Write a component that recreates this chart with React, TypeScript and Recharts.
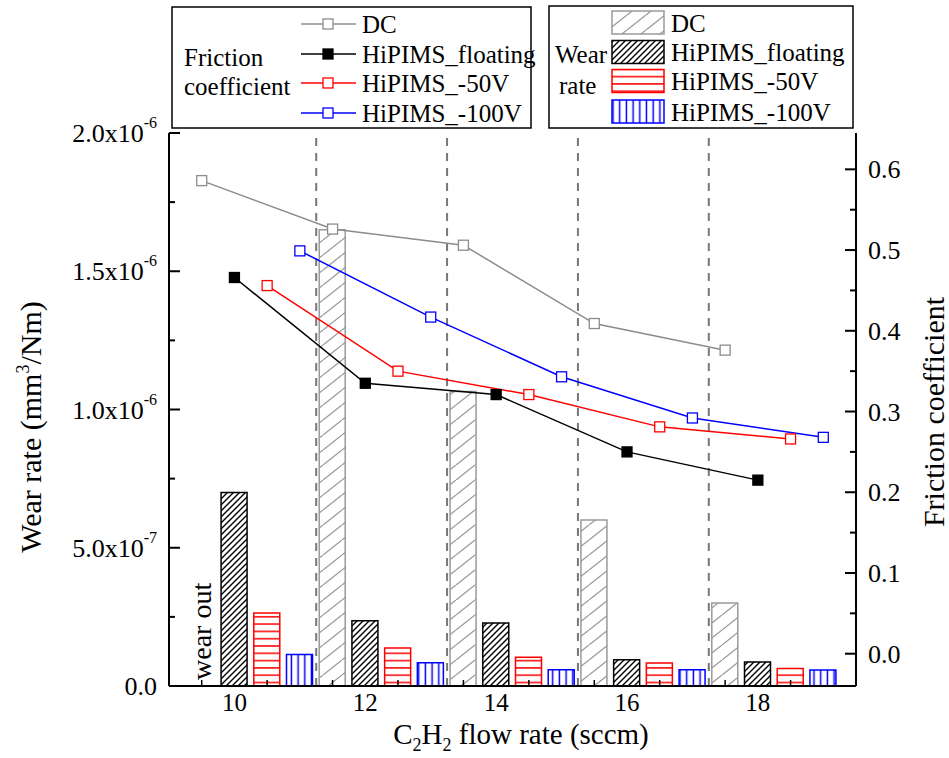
import React from 'react';
import { ComposedChart, Bar, Line, XAxis, YAxis, ReferenceLine, ReferenceDot } from 'recharts';

const FONT = '"Liberation Serif", "Times New Roman", serif';

// C2H2 flow rate groups (sccm)
const flowRates = [10, 12, 14, 16, 18];

// wear rate (mm3/Nm); DC at 10 sccm wore out -> no value
const wearDC = [null, 1.65e-6, 1.065e-6, 0.6e-6, 0.3e-6];
const wearFloating = [0.7e-6, 0.236e-6, 0.228e-6, 0.095e-6, 0.087e-6];
const wear50V = [0.264e-6, 0.137e-6, 0.104e-6, 0.083e-6, 0.063e-6];
const wear100V = [0.114e-6, 0.084e-6, 0.059e-6, 0.059e-6, 0.058e-6];

// friction coefficient
const frictionDC = [0.586, 0.526, 0.506, 0.409, 0.376];
const frictionFloating = [0.466, 0.335, 0.321, 0.25, 0.215];
const friction50V = [0.456, 0.35, 0.321, 0.281, 0.266];
const friction100V = [0.499, 0.417, 0.343, 0.292, 0.268];

// ticks
const xLabelTicks = [10, 12, 14, 16, 18];
const xMinorTicks = [9.5, 10.5, 11.5, 12.5, 13.5, 14.5, 15.5, 16.5, 17.5, 18.5];
const groupDividers = [11.25, 13.25, 15.25, 17.25];
const wearMajorTicks = [0, 0.5e-6, 1.0e-6, 1.5e-6, 2.0e-6];
const wearMinorTicks = [0.25e-6, 0.75e-6, 1.25e-6, 1.75e-6];
const frictionMajorTicks = [0, 0.1, 0.2, 0.3, 0.4, 0.5, 0.6];
const frictionMinorTicks = [0.05, 0.15, 0.25, 0.35, 0.45, 0.55];

const series = [
  { key: 'DC', name: 'DC', offset: -0.5, wear: wearDC, friction: frictionDC, color: '#8c8c8c', barStroke: '#9a9a9a', markerFill: '#fff', pattern: 'patDC' },
  { key: 'FL', name: 'HiPIMS_floating', offset: 0, wear: wearFloating, friction: frictionFloating, color: '#000', barStroke: '#000', markerFill: '#000', pattern: 'patFL' },
  { key: 'N50', name: 'HiPIMS_-50V', offset: 0.5, wear: wear50V, friction: friction50V, color: '#ff0000', barStroke: '#ff0000', markerFill: '#fff', pattern: 'patN50' },
  { key: 'N100', name: 'HiPIMS_-100V', offset: 1, wear: wear100V, friction: friction100V, color: '#0000ff', barStroke: '#0000ff', markerFill: '#fff', pattern: 'patN100' },
];

const rows: any[] = [];
flowRates.forEach((f, i) => {
  series.forEach((s) => {
    const row: any = { x: f + s.offset };
    if (s.wear[i] != null) row['w' + s.key] = s.wear[i];
    row['f' + s.key] = s.friction[i];
    rows.push(row);
  });
});

function formatWear(v: number) {
  if (v === 0) return { m: '0.0', e: '' };
  const e = Math.floor(Math.log10(v) + 1e-9);
  return { m: (v / Math.pow(10, e)).toFixed(1) + 'x10', e: String(e) };
}

function BottomTick(props: any) {
  const { x, y, payload } = props;
  const v = payload.value;
  if (xLabelTicks.includes(v)) {
    return (
      <text x={x} y={y + 25} textAnchor="middle" fontSize={25} fontFamily={FONT} fill="#000">
        {v}
      </text>
    );
  }
  return <line x1={x} x2={x} y1={y} y2={y - 6} stroke="#000" strokeWidth={1.5} />;
}

function TopTick(props: any) {
  const { x, y } = props;
  return <line x1={x} x2={x} y1={y} y2={y + 6} stroke="#000" strokeWidth={1.5} />;
}

function LeftTick(props: any) {
  const { x, y, payload } = props;
  const v = payload.value;
  const major = wearMajorTicks.includes(v);
  if (!major) return <line x1={x} x2={x + 6} y1={y} y2={y} stroke="#000" strokeWidth={2} />;
  const { m, e } = formatWear(v);
  return (
    <g>
      <line x1={x} x2={x + 11} y1={y} y2={y} stroke="#000" strokeWidth={2} />
      <text x={x - 12} y={y} dy={9} textAnchor="end" fontSize={26} fontFamily={FONT} fill="#000">
        {m}
        {e && (
          <tspan dy={-14} fontSize={16}>
            {e}
          </tspan>
        )}
      </text>
    </g>
  );
}

function RightTick(props: any) {
  const { x, y, payload } = props;
  const v = payload.value;
  const major = frictionMajorTicks.includes(v);
  if (!major) return <line x1={x} x2={x - 6} y1={y} y2={y} stroke="#000" strokeWidth={2} />;
  return (
    <g>
      <line x1={x} x2={x - 11} y1={y} y2={y} stroke="#000" strokeWidth={2} />
      <text x={x + 12} y={y} dy={9} textAnchor="start" fontSize={26} fontFamily={FONT} fill="#000">
        {v.toFixed(1)}
      </text>
    </g>
  );
}

const squareDot = (stroke: string, fill: string) => (props: any) => {
  const { cx, cy, index, value } = props;
  if (cx == null || cy == null || value == null || Number.isNaN(cy)) return <g key={'d' + index} />;
  return (
    <rect key={'d' + index} x={cx - 5} y={cy - 5} width={10} height={10} fill={fill} stroke={stroke} strokeWidth={1.3} />
  );
};

const WearOut = (props: any) => {
  const { cx, cy } = props;
  return (
    <text transform={`translate(${cx + 9},${cy - 6}) rotate(-90)`} fontSize={28} fontFamily={FONT} fill="#000">
      wear out
    </text>
  );
};

function Patterns() {
  return (
    <defs>
      <pattern id="patDC" patternUnits="userSpaceOnUse" width={19} height={15}>
        <rect width={19} height={15} fill="#fff" />
        <path d="M0,15 L19,0 M-19,15 L0,0 M19,15 L38,0" stroke="#9a9a9a" strokeWidth={1.3} />
      </pattern>
      <pattern id="patFL" patternUnits="userSpaceOnUse" width={6} height={6}>
        <rect width={6} height={6} fill="#fff" />
        <path d="M0,6 L6,0 M-2,2 L2,-2 M4,8 L8,4" stroke="#000" strokeWidth={1.4} />
      </pattern>
      <pattern id="patN50" patternUnits="userSpaceOnUse" width={10} height={7.3}>
        <rect width={10} height={7.3} fill="#fff" />
        <line x1={0} x2={10} y1={3.6} y2={3.6} stroke="#ff0000" strokeWidth={1.5} />
      </pattern>
      <pattern id="patN100" patternUnits="userSpaceOnUse" width={6.7} height={10}>
        <rect width={6.7} height={10} fill="#fff" />
        <line x1={3.3} x2={3.3} y1={0} y2={10} stroke="#0000ff" strokeWidth={1.5} />
      </pattern>
    </defs>
  );
}

function Legends() {
  const lineRows = [24, 54, 83, 113];
  const barRows = [22.5, 52, 81, 111.5];
  return (
    <svg width={949} height={140} style={{ position: 'absolute', left: 0, top: 0 }} fontFamily={FONT}>
      <rect x={172} y={7} width={359} height={121} fill="#fff" stroke="#000" strokeWidth={1.5} />
      <text x={184} y={66} fontSize={25}>Friction</text>
      <text x={184} y={95} fontSize={25}>coefficient</text>
      {series.map((s, i) => (
        <g key={s.key}>
          <line x1={301} x2={356} y1={lineRows[i]} y2={lineRows[i]} stroke={s.color} strokeWidth={1.5} />
          <rect x={323} y={lineRows[i] - 5} width={10} height={10} fill={s.markerFill} stroke={s.color} strokeWidth={1.3} />
          <text x={362} y={lineRows[i] + 9} fontSize={25}>
            {s.name}
          </text>
        </g>
      ))}
      <rect x={549} y={6} width={304} height={122} fill="#fff" stroke="#000" strokeWidth={1.5} />
      <text x={555} y={63} fontSize={25}>Wear</text>
      <text x={559} y={94} fontSize={25}>rate</text>
      {series.map((s, i) => (
        <g key={s.key}>
          <rect x={612} y={barRows[i] - 11.5} width={52} height={23} fill={`url(#${s.pattern})`} stroke={s.barStroke} strokeWidth={1.5} />
          <text x={671} y={barRows[i] + 9} fontSize={25}>
            {s.name}
          </text>
        </g>
      ))}
    </svg>
  );
}

function AxisTitles() {
  return (
    <svg width={949} height={758} style={{ position: 'absolute', left: 0, top: 0, pointerEvents: 'none' }} fontFamily={FONT}>
      <text transform="translate(41,427) rotate(-90)" textAnchor="middle" fontSize={30}>
        Wear rate (mm
        <tspan dy={-12} fontSize={18}>3</tspan>
        <tspan dy={12}>/Nm)</tspan>
      </text>
      <text transform="translate(944,412) rotate(-90)" textAnchor="middle" fontSize={30}>
        Friction coefficient
      </text>
      <text x={521} y={744} textAnchor="middle" fontSize={29}>
        C<tspan dy={7} fontSize={18}>2</tspan>
        <tspan dy={-7}>H</tspan>
        <tspan dy={7} fontSize={18}>2</tspan>
        <tspan dy={-7}> flow rate (sccm)</tspan>
      </text>
    </svg>
  );
}

export default function App() {
  return (
    <div style={{ position: 'absolute', left: 0, top: 0, width: 949, height: 758, background: '#fff' }}>
      <ComposedChart width={949} height={758} data={rows} margin={{ top: 133, right: 33, bottom: 32, left: 69 }}>
        <Patterns />
        <XAxis
          xAxisId="b"
          dataKey="x"
          type="number"
          domain={[9, 19.5]}
          ticks={[...xMinorTicks, ...xLabelTicks]}
          interval={0}
          tickSize={0}
          tickMargin={0}
          tickLine={false}
          tick={<BottomTick />}
          axisLine={{ stroke: '#000', strokeWidth: 2 }}
          height={40}
        />
        <XAxis
          xAxisId="t"
          orientation="top"
          dataKey="x"
          type="number"
          domain={[9, 19.5]}
          ticks={xMinorTicks}
          interval={0}
          tickSize={0}
          tickMargin={0}
          tickLine={false}
          tick={<TopTick />}
          axisLine={{ stroke: '#000', strokeWidth: 2 }}
          height={0}
        />
        <YAxis
          yAxisId="wear"
          type="number"
          domain={[0, 2e-6]}
          ticks={[...wearMajorTicks, ...wearMinorTicks]}
          interval={0}
          tickSize={0}
          tickMargin={0}
          tickLine={false}
          tick={<LeftTick />}
          axisLine={{ stroke: '#000', strokeWidth: 2 }}
          width={100}
        />
        <YAxis
          yAxisId="fric"
          orientation="right"
          type="number"
          domain={[-0.04, 0.645]}
          ticks={[...frictionMajorTicks, ...frictionMinorTicks]}
          interval={0}
          tickSize={0}
          tickMargin={0}
          tickLine={false}
          tick={<RightTick />}
          axisLine={{ stroke: '#000', strokeWidth: 2 }}
          width={60}
        />
        {groupDividers.map((d) => (
          <ReferenceLine key={d} x={d} xAxisId="b" yAxisId="wear" stroke="#777" strokeWidth={2} strokeDasharray="8 7" />
        ))}
        {series.map((s) => (
          <Bar
            key={'b' + s.key}
            xAxisId="b"
            yAxisId="wear"
            dataKey={'w' + s.key}
            stackId="wear"
            barSize={26}
            fill={`url(#${s.pattern})`}
            stroke={s.barStroke}
            strokeWidth={1.5}
            isAnimationActive={false}
          />
        ))}
        {series.map((s) => (
          <Line
            key={'l' + s.key}
            xAxisId="b"
            yAxisId="fric"
            dataKey={'f' + s.key}
            stroke={s.color}
            strokeWidth={1.5}
            connectNulls
            dot={squareDot(s.color, s.markerFill)}
            activeDot={false}
            isAnimationActive={false}
          />
        ))}
        <ReferenceDot xAxisId="b" yAxisId="wear" x={9.5} y={0} r={0} shape={<WearOut />} />
      </ComposedChart>
      <Legends />
      <AxisTitles />
    </div>
  );
}
